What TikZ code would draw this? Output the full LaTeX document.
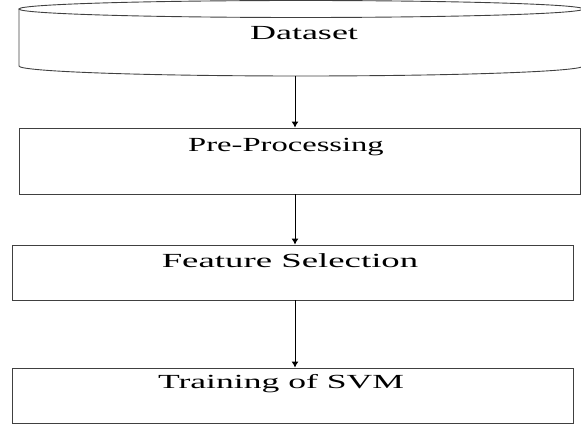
\documentclass[tikz,border=0pt]{standalone}
\usepackage{fontspec}
\setmainfont{Liberation Serif}
\usetikzlibrary{arrows.meta}
\tikzset{
  boxline/.style={draw=black!75, line width=0.9pt},
  stage/.style={boxline, rectangle, inner sep=0pt},
  lbl/.style={inner sep=0pt, anchor=base, font=\fontsize{20}{24}\selectfont},
  arr/.style={line width=1pt, -{Latex[length=6pt,width=7pt]}}
}
\newcommand{\wide}[2]{\scalebox{#1}[1]{#2}}
\begin{document}
\begin{tikzpicture}[x=1pt,y=-1pt]
\useasboundingbox (0,0) rectangle (581,425);
% cylinder
\draw[boxline] (301,9) ellipse [x radius=282, y radius=8.5];
\draw[boxline] (19,9) -- (19,66) arc[start angle=180, end angle=360, x radius=282, y radius=-10] -- (583,9);
\node[lbl] (ds) at (304,40) {\wide{1.8}{Dataset}};
\coordinate (dsb) at (295,76);
% boxes
\node[stage, minimum width=561pt, minimum height=66pt] (pre) at (299.5,161) {};
\node[lbl] (prel) at (286,152) {\wide{1.63}{Pre-Processing}};
\node[stage, minimum width=561pt, minimum height=55pt] (fs) at (292.5,272.5) {};
\node[lbl] (fsl) at (290,267) {\wide{1.84}{Feature Selection}};
\node[stage, minimum width=561pt, minimum height=55pt] (tr) at (292.5,395.5) {};
\node[lbl] (trl) at (281,388) {\wide{1.78}{Training of SVM}};
% arrows
\draw[arr] (dsb) -- (dsb |- pre.north);
\draw[arr] (dsb |- pre.south) -- (dsb |- fs.north);
\draw[arr] (dsb |- fs.south) -- (dsb |- tr.north);
\end{tikzpicture}
\end{document}
